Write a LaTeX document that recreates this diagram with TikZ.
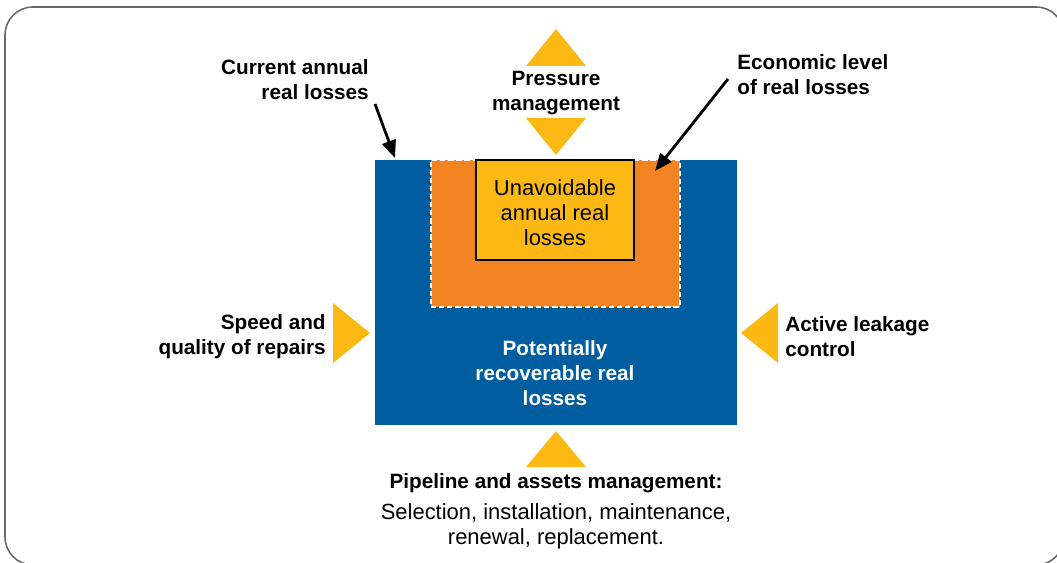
\documentclass[tikz,border=0pt]{standalone}
\usepackage{fontspec}
\setmainfont{Liberation Sans}
\usetikzlibrary{arrows.meta}
\usetikzlibrary{positioning}

\definecolor{lossblue}{RGB}{0,94,160}
\definecolor{lossorange}{RGB}{242,133,34}
\definecolor{lossyellow}{RGB}{252,185,20}
\definecolor{framegray}{RGB}{105,105,105}

\begin{document}
\begin{tikzpicture}[x=0.02cm, y=-0.02cm]
    \tikzset{Frame/.style={draw=framegray, line width=0.9pt, rounded corners=0.56cm}};
    \tikzset{Box/.style={rectangle, anchor=north west, inner sep=0, outer sep=0}};
    \tikzset{Txt/.style={font=\fontsize{12.5}{14.2}\selectfont, inner sep=0, align=center}};
    \tikzset{Bold/.style={Txt, font=\bfseries\fontsize{11.8}{14.2}\selectfont}};
    \tikzset{Lever/.style={fill=lossyellow}};
    \tikzset{Pointer/.style={-{Triangle[length=10pt, width=8pt]}, line width=1.6pt}};

    \useasboundingbox (0,0) rectangle (1057,563);
    \draw[Frame] (5,7) rectangle (1064,565);

    % the three loss boxes
    \node[Box, fill=lossblue, minimum width=7.24cm, minimum height=5.3cm] (recov) at (375,160) {};
    \node[Box, fill=lossorange, draw=white, line width=0.8pt, dash pattern=on 3pt off 1.6pt,
          minimum width=4.98cm, minimum height=2.94cm] (econ) at (431,160) {};
    \node[Box, fill=lossyellow, draw=black, line width=0.6pt,
          minimum width=3.16cm, minimum height=2cm] (unav) at (476,160) {};

    \node[Txt] (unavtxt) at (555,213) {Unavoidable\\annual real\\losses};
    \node[Bold, text=white] (recovtxt) at (555,373) {Potentially\\recoverable real\\losses};

    % levers
    \node[Bold] (press) at (556,93) {Pressure\\management};
    \fill[Lever] (526,66) -- (556,29) -- (586,66) -- cycle;
    \fill[Lever] (526,118) -- (556,155) -- (586,118) -- cycle;

    \node[Bold, align=right, anchor=east] (speed) at (326,337) {Speed and\\quality of repairs};
    \fill[Lever] (333,303) -- (370,333) -- (333,363) -- cycle;

    \node[Bold, align=left, anchor=west] (alc) at (785,337) {Active leakage\\control};
    \fill[Lever] (778,303) -- (741,333) -- (778,363) -- cycle;

    \fill[Lever] (526,467) -- (556,431) -- (586,467) -- cycle;
    \node[Bold] (pipe) at (556,483) {Pipeline and assets management:};
    \node[Txt, below=0.2cm of pipe] (pipetxt) {Selection, installation, maintenance,\\renewal, replacement.};

    % pointers
    \node[Bold, align=right, anchor=east] (current) at (369,80) {Current annual\\real losses};
    \node[Bold, align=left, anchor=west] (econtxt) at (737,75) {Economic level\\of real losses};
    \coordinate (c1) at (375,104);
    \coordinate (c2) at (395,158);
    \coordinate (e1) at (728,79);
    \coordinate (e2) at (655,171);
    \draw[Pointer] (c1) -- (c2);
    \draw[Pointer] (e1) -- (e2);
\end{tikzpicture}
\end{document}
